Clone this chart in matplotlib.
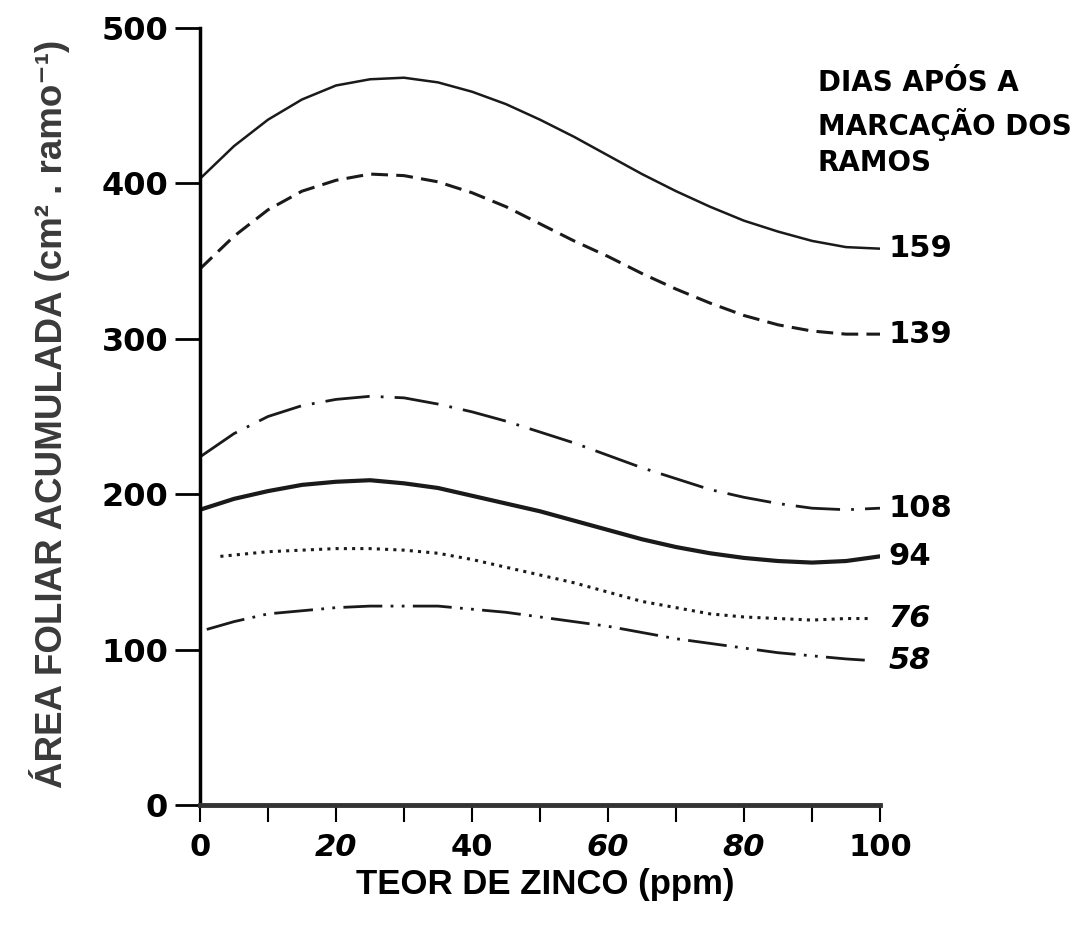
import matplotlib.pyplot as plt

# teor de zinco (ppm) e area foliar acumulada (cm2 . ramo-1) por dia de coleta
zn = [0, 5, 10, 15, 20, 25, 30, 35, 40, 45, 50, 55, 60, 65, 70, 75, 80, 85, 90, 95, 100]

af159 = [403, 424, 441, 454, 463, 467, 468, 465, 459, 451, 441, 430, 418, 406, 395, 385, 376, 369, 363, 359, 358]
af139 = [345, 366, 383, 395, 402, 406, 405, 401, 394, 385, 374, 363, 353, 342, 332, 323, 315, 309, 305, 303, 303]
af108 = [224, 239, 250, 257, 261, 263, 262, 258, 253, 247, 240, 233, 225, 217, 210, 203, 198, 194, 191, 190, 191]
af94 = [190, 197, 202, 206, 208, 209, 207, 204, 199, 194, 189, 183, 177, 171, 166, 162, 159, 157, 156, 157, 160]

zn76 = [3, 10, 15, 20, 25, 30, 35, 40, 45, 50, 55, 60, 65, 70, 75, 80, 85, 90, 95, 98.5]
af76 = [160, 163, 164, 165, 165, 164, 162, 158, 153, 148, 143, 137, 131, 127, 123, 121, 120, 119, 120, 120]

zn58 = [1, 5, 10, 15, 20, 25, 30, 35, 40, 45, 50, 55, 60, 65, 70, 75, 80, 85, 90, 95, 98.5]
af58 = [113, 118, 123, 125, 127, 128, 128, 128, 126, 124, 121, 118, 115, 111, 107, 104, 101, 98, 96, 94, 93]

dias = ['159', '139', '108', '94', '76', '58']

fig = plt.figure(figsize=(10.84, 9.3), dpi=100)
ax = fig.add_axes([0.1845, 0.1344, 0.6273, 0.8355])

cor = '#1a1a1a'
ax.plot(zn, af159, color=cor, lw=1.8)
ax.plot(zn, af139, color=cor, lw=2.2, linestyle=(0, (5.5, 2.7)))
ax.plot(zn, af108, color=cor, lw=2.0, linestyle=(0, (16, 4, 1, 4)))
ax.plot(zn, af94, color=cor, lw=3.0)
ax.plot(zn76, af76, color=cor, lw=2.2, linestyle=(0, (1, 1.7)), dash_capstyle='butt')
ax.plot(zn58, af58, color=cor, lw=2.0, linestyle=(0, (14, 3, 1, 3, 1, 3)))

# rotulos dos dias no fim de cada curva
finais = [af159[-1], af139[-1], af108[-1], af94[-1], af76[-1], af58[-1]]
for d, y in zip(dias, finais):
    estilo = 'italic' if d in ('76', '58') else 'normal'
    ax.text(101.2, y, d, fontsize=22, fontweight='bold', style=estilo,
            va='center', ha='left', color='black', clip_on=False)

ax.set_xlim(0, 100)
ax.set_ylim(0, 500)
ax.spines['top'].set_visible(False)
ax.spines['right'].set_visible(False)
ax.spines['left'].set_linewidth(2.5)
ax.spines['bottom'].set_linewidth(3.5)
ax.spines['bottom'].set_color('#333333')

ax.set_yticks([0, 100, 200, 300, 400, 500])
ax.set_yticklabels(['0', '100', '200', '300', '400', '500'], fontsize=23, fontweight='bold')
ax.tick_params(axis='y', direction='out', length=18, width=2, pad=5)

ax.set_xticks(range(0, 101, 10))
ax.set_xticklabels(['0', '', '20', '', '40', '', '60', '', '80', '', '100'],
                   fontsize=22, fontweight='bold')
for lab, st in zip(ax.get_xticklabels()[::2], ['normal', 'italic', 'normal', 'italic', 'italic', 'normal']):
    lab.set_style(st)
ax.tick_params(axis='x', direction='out', length=12, width=1.5, pad=8)

fig.text(0.046, 0.555, 'ÁREA FOLIAR ACUMULADA (cm² . ramo⁻¹)', rotation=90,
         fontsize=26.5, fontweight='bold', color='#3a3a3a', ha='center', va='center',
         family=['Liberation Sans', 'DejaVu Sans'])
fig.text(0.503, 0.049, 'TEOR DE ZINCO (ppm)', fontsize=25, fontweight='bold',
         ha='center', va='center', family=['Liberation Sans Narrow', 'Liberation Sans'])

# titulo da legenda dos dias
fig.text(0.7546, 0.9108, 'DIAS APÓS A', fontsize=20, fontweight='bold',
         ha='left', va='center')
fig.text(0.7546, 0.8660, 'MARCAÇÃO DOS', fontsize=20, fontweight='bold',
         ha='left', va='center')
fig.text(0.7546, 0.8250, 'RAMOS', fontsize=20, fontweight='bold',
         ha='left', va='center')

fig.savefig('out.png', dpi=100)
